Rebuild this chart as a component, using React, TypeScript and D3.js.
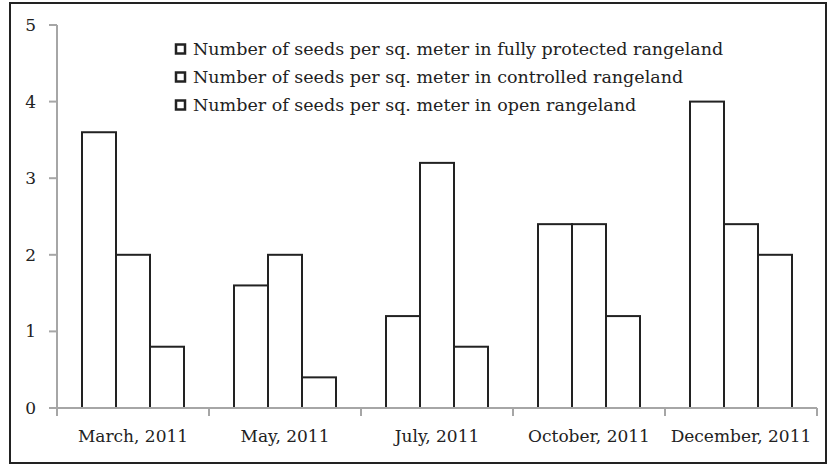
import React from "react";
import * as d3 from "d3";

const categories = ["March, 2011", "May, 2011", "July, 2011", "October, 2011", "December, 2011"];
const seriesNames = [
  "Number of seeds per sq. meter in fully protected rangeland",
  "Number of seeds per sq. meter in controlled rangeland",
  "Number of seeds per sq. meter in open rangeland",
];
const fullyProtected = [3.6, 1.6, 1.2, 2.4, 4.0];
const controlled = [2.0, 2.0, 3.2, 2.4, 2.4];
const openLand = [0.8, 0.4, 0.8, 1.2, 2.0];
const yTicks = [0, 1, 2, 3, 4, 5];

const W = 836;
const H = 465;
const FONT = "'DejaVu Serif', serif";

export default function App() {
  const series = [fullyProtected, controlled, openLand];
  const x0 = d3.scaleBand<string>().domain(categories).range([57, 817]).paddingInner(0).paddingOuter(0);
  const inner = x0.bandwidth() * (102 / 152);
  const x1 = d3
    .scaleBand<number>()
    .domain([0, 1, 2])
    .range([(x0.bandwidth() - inner) / 2, (x0.bandwidth() + inner) / 2]);
  const y = d3.scaleLinear().domain([0, 5]).range([408, 25]);
  const boundaries = categories.map((c) => x0(c)!).concat([817]);

  return (
    <svg width={W} height={H} style={{ position: "absolute", left: 0, top: 0 }}>
      <rect x={0} y={0} width={W} height={H} fill="#fff" />
      <rect x={10} y={3} width={816} height={460} fill="none" stroke="#222" strokeWidth={2} />
      {/* bars */}
      {categories.map((c, i) =>
        series.map((s, j) => (
          <rect
            key={c + j}
            x={x0(c)! + x1(j)!}
            y={y(s[i])}
            width={x1.bandwidth()}
            height={y(0) - y(s[i])}
            fill="#fff"
            stroke="#222"
            strokeWidth={2}
          />
        ))
      )}
      {/* y axis */}
      <line x1={57} x2={57} y1={y(5)} y2={y(0)} stroke="#a6a6a6" strokeWidth={2} />
      {yTicks.map((t) => (
        <g key={t}>
          <line x1={49} x2={57} y1={y(t)} y2={y(t)} stroke="#a6a6a6" strokeWidth={2} />
          <text x={36} y={y(t)} dy="0.35em" textAnchor="end" fontFamily={FONT} fontSize={17} fill="#222">
            {t}
          </text>
        </g>
      ))}
      {/* x axis */}
      <line x1={57} x2={817} y1={y(0)} y2={y(0)} stroke="#a6a6a6" strokeWidth={2} />
      {boundaries.map((b, i) => (
        <line key={i} x1={b} x2={b} y1={y(0)} y2={y(0) + 8} stroke="#a6a6a6" strokeWidth={2} />
      ))}
      {categories.map((c) => (
        <text
          key={c}
          x={x0(c)! + x0.bandwidth() / 2}
          y={442}
          textAnchor="middle"
          fontFamily={FONT}
          fontSize={17}
          fill="#222"
        >
          {c}
        </text>
      ))}
      {/* legend */}
      {seriesNames.map((n, i) => (
        <g key={n} transform={`translate(180.5, ${49 + i * 28})`}>
          <rect x={-4.5} y={-4.5} width={9} height={9} fill="#fff" stroke="#222" strokeWidth={2.5} />
          <text x={12.5} y={0} dy="0.35em" fontFamily={FONT} fontSize={17.5} fill="#222">
            {n}
          </text>
        </g>
      ))}
    </svg>
  );
}
